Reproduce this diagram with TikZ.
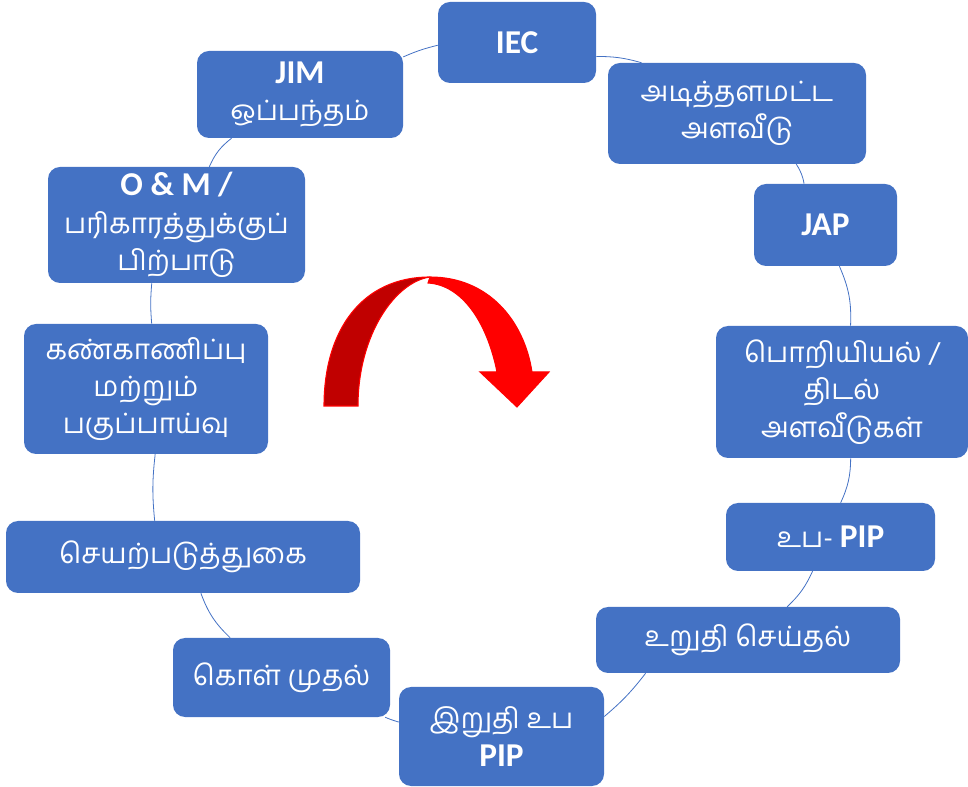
\documentclass[tikz,border=0pt]{standalone}
\usepackage{fontspec}
\setmainfont{Carlito}
\newfontfamily\tamil[Script=Tamil]{Hind Madurai}
\usepackage{tikz}
\usetikzlibrary{positioning}

\definecolor{boxblue}{HTML}{4472C4}
\definecolor{arrowdark}{HTML}{C00000}
\newcommand{\lat}[1]{{\normalfont\bfseries\fontsize{25}{30}\selectfont #1}}

\tikzset{
  stage/.style={rectangle, rounded corners=9pt, fill=boxblue, text=white,
    inner sep=0pt, align=center, font=\tamil\fontsize{21}{28}\selectfont},
  wh/.style 2 args={minimum width=#1*0.75pt, minimum height=#2*0.75pt},
  ring/.style={draw=boxblue, line width=0.6pt}
}

\begin{document}
\begin{tikzpicture}[x=0.75pt,y=-0.75pt]
   \useasboundingbox (0,0) rectangle (968,787);
   \node[stage,wh={158}{81}]  (iec)       at (517,42.5)   {\lat{IEC}};
   \node[stage,wh={258}{101}] (base)      at (737,113.5)  {அடித்தளமட்ட\\அளவீடு};
   \node[stage,wh={143}{82}]  (jap)       at (825.5,225)  {\lat{JAP}};
   \node[stage,wh={252}{132}] (eng)       at (842,392)    {பொறியியல் /\\திடல்\\அளவீடுகள்};
   \node[stage,wh={209}{68}]  (subpip)    at (830.5,537)  {உப- \lat{PIP}};
   \node[stage,wh={304}{66}]  (confirm)   at (748,640)    {உறுதி செய்தல்};
   \node[stage,wh={205}{99}]  (finalpip)  at (501.5,736.5) {இறுதி உப\\\lat{PIP}};
   \node[stage,wh={217}{79}]  (purchase)  at (281.5,677.5) {கொள் முதல்};
   \node[stage,wh={354}{72}]  (implement) at (183,557)    {செயற்படுத்துகை};
   \node[stage,wh={244}{130}] (monitor)   at (146,389)    {கண்காணிப்பு\\மற்றும்\\பகுப்பாய்வு};
   \node[stage,wh={257}{116}] (om)        at (176.5,225)  {\lat{O \& M /}\\பரிகாரத்துக்குப்\\பிற்பாடு};
   \node[stage,wh={206}{87}]  (jim)       at (300,94.5)   {\lat{JIM}\\ஒப்பந்தம்};
    \path[ring]
    (iec.-10) edge [bend left=8] (base.152)
    (base) edge [bend left=11] (jap)
    (jap) edge [bend left=13] (eng)
    (eng) edge [bend left=12] (subpip)
    (subpip) edge [bend left=11] (confirm)
    (confirm.198) edge [bend left=6] (finalpip.11)
    (finalpip.172) edge [bend left=3] (purchase.339)
    (purchase) edge [bend left=13] (implement)
    (implement.128) edge [bend left=6] (monitor.278)
    (monitor.85) edge [bend left=5] (om.247)
    (om) edge [bend left=14] (jim)
    (jim.20) edge [bend left=5] (iec.182);
   % curved arrow in the middle
   \filldraw[fill=arrowdark, draw=red, line width=0.8pt]
    (324,406) .. controls (324,330) and (362,277) .. (430,277)
    .. controls (395,282) and (358,335) .. (358,406) -- cycle;
   \filldraw[fill=red, draw=red, line width=0.8pt]
    (430,277) .. controls (488,277) and (524,320) .. (532,372)
    -- (549,372) -- (517,407) -- (480,372) -- (497,372)
    .. controls (487,322) and (462,285) .. (428,283) -- cycle;
\end{tikzpicture}
\end{document}
